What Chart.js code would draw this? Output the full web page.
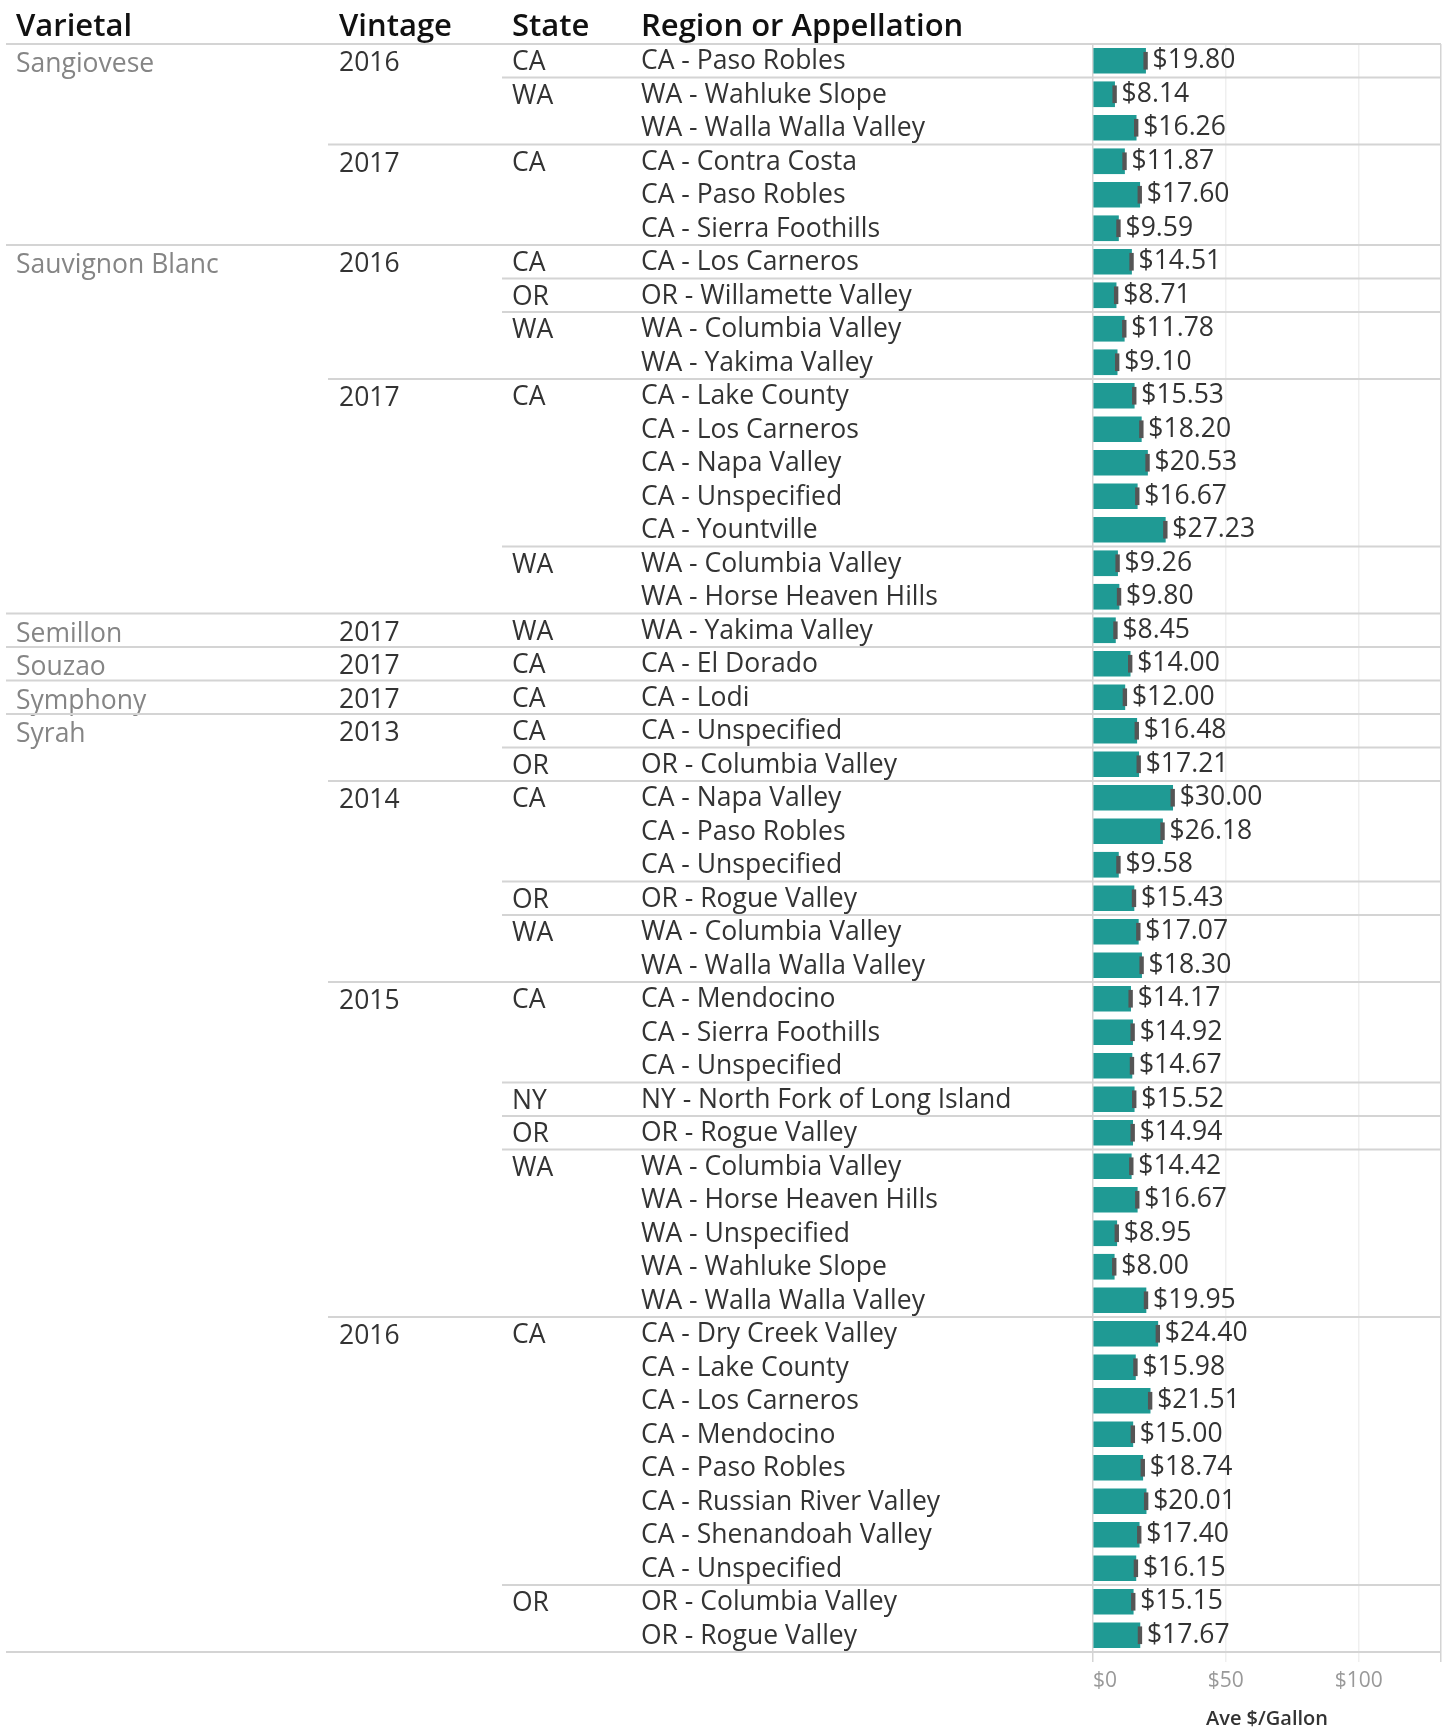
<!DOCTYPE html>
<html>
<head>
<meta charset="utf-8">
<script src="https://cdn.jsdelivr.net/npm/chart.js@4.4.1/dist/chart.umd.min.js"></script>
<style>
  body { margin: 0; background: #fff; }
  canvas { display: block; }
</style>
</head>
<body>
<canvas id="wineChart" width="1447" height="1731"></canvas>
<script>
// one entry per table row
const varietals = [
  "Sangiovese", "Sangiovese", "Sangiovese", "Sangiovese", "Sangiovese", "Sangiovese",
  "Sauvignon Blanc", "Sauvignon Blanc", "Sauvignon Blanc", "Sauvignon Blanc", "Sauvignon Blanc",
  "Sauvignon Blanc", "Sauvignon Blanc", "Sauvignon Blanc", "Sauvignon Blanc", "Sauvignon Blanc", "Sauvignon Blanc",
  "Semillon", "Souzao", "Symphony",
  "Syrah", "Syrah", "Syrah", "Syrah", "Syrah", "Syrah", "Syrah", "Syrah", "Syrah", "Syrah",
  "Syrah", "Syrah", "Syrah", "Syrah", "Syrah", "Syrah", "Syrah", "Syrah", "Syrah", "Syrah",
  "Syrah", "Syrah", "Syrah", "Syrah", "Syrah", "Syrah", "Syrah", "Syrah"
];
const vintages = [
  "2016", "2016", "2016", "2017", "2017", "2017",
  "2016", "2016", "2016", "2016", "2017", "2017", "2017", "2017", "2017", "2017", "2017",
  "2017", "2017", "2017",
  "2013", "2013",
  "2014", "2014", "2014", "2014", "2014", "2014",
  "2015", "2015", "2015", "2015", "2015", "2015", "2015", "2015", "2015", "2015",
  "2016", "2016", "2016", "2016", "2016", "2016", "2016", "2016", "2016", "2016"
];
const states = [
  "CA", "WA", "WA", "CA", "CA", "CA",
  "CA", "OR", "WA", "WA", "CA", "CA", "CA", "CA", "CA", "WA", "WA",
  "WA", "CA", "CA",
  "CA", "OR",
  "CA", "CA", "CA", "OR", "WA", "WA",
  "CA", "CA", "CA", "NY", "OR", "WA", "WA", "WA", "WA", "WA",
  "CA", "CA", "CA", "CA", "CA", "CA", "CA", "CA", "OR", "OR"
];
const regions = [
  "CA - Paso Robles", "WA - Wahluke Slope", "WA - Walla Walla Valley",
  "CA - Contra Costa", "CA - Paso Robles", "CA - Sierra Foothills",
  "CA - Los Carneros", "OR - Willamette Valley", "WA - Columbia Valley", "WA - Yakima Valley",
  "CA - Lake County", "CA - Los Carneros", "CA - Napa Valley", "CA - Unspecified", "CA - Yountville",
  "WA - Columbia Valley", "WA - Horse Heaven Hills",
  "WA - Yakima Valley", "CA - El Dorado", "CA - Lodi",
  "CA - Unspecified", "OR - Columbia Valley",
  "CA - Napa Valley", "CA - Paso Robles", "CA - Unspecified", "OR - Rogue Valley",
  "WA - Columbia Valley", "WA - Walla Walla Valley",
  "CA - Mendocino", "CA - Sierra Foothills", "CA - Unspecified", "NY - North Fork of Long Island",
  "OR - Rogue Valley", "WA - Columbia Valley", "WA - Horse Heaven Hills", "WA - Unspecified",
  "WA - Wahluke Slope", "WA - Walla Walla Valley",
  "CA - Dry Creek Valley", "CA - Lake County", "CA - Los Carneros", "CA - Mendocino",
  "CA - Paso Robles", "CA - Russian River Valley", "CA - Shenandoah Valley", "CA - Unspecified",
  "OR - Columbia Valley", "OR - Rogue Valley"
];
const avePrice = [
  19.80, 8.14, 16.26, 11.87, 17.60, 9.59,
  14.51, 8.71, 11.78, 9.10, 15.53, 18.20, 20.53, 16.67, 27.23, 9.26, 9.80,
  8.45, 14.00, 12.00,
  16.48, 17.21,
  30.00, 26.18, 9.58, 15.43, 17.07, 18.30,
  14.17, 14.92, 14.67, 15.52, 14.94, 14.42, 16.67, 8.95, 8.00, 19.95,
  24.40, 15.98, 21.51, 15.00, 18.74, 20.01, 17.40, 16.15, 15.15, 17.67
];
const xTicks = [0, 50, 100];
const headers = ["Varietal", "Vintage", "State", "Region or Appellation"];

const X_MAX = 131;

// only show a group label on the first row of its group
const newVarietal = varietals.map((v, i) => i === 0 || v !== varietals[i - 1]);
const newVintage = vintages.map((v, i) => newVarietal[i] || v !== vintages[i - 1]);
const newState = states.map((s, i) => newVintage[i] || s !== states[i - 1]);
const varietalLabels = varietals.map((v, i) => newVarietal[i] ? v : "");
const vintageLabels = vintages.map((v, i) => newVintage[i] ? v : "");
const stateLabels = states.map((s, i) => newState[i] ? s : "");

Chart.defaults.font.family = "'Open Sans', sans-serif";

function rowAxis(labels, weight, width, color, nudge) {
  return {
    type: "category",
    position: "left",
    labels: labels,
    weight: weight,
    offset: true,
    grid: { display: false, drawTicks: false },
    border: { display: false },
    ticks: {
      autoSkip: false,
      crossAlign: "far",
      padding: 0,
      labelOffset: nudge,
      color: color,
      font: { size: 26.5 },
    },
    afterFit: (axis) => { axis.width = width; },
  };
}

const tablePlugin = {
  id: "tableLines",
  beforeDatasetsDraw(chart) {
    const ctx = chart.ctx;
    const y = chart.scales.y;
    const area = chart.chartArea;
    const x0Var = chart.scales.yVarietal.left - 10;
    const x0Vin = chart.scales.yVintage.left - 11;
    const x0St = chart.scales.yState.left - 10;
    ctx.save();
    ctx.strokeStyle = "#d4d4d4";
    ctx.lineWidth = 2;
    const hline = (x0, yy) => {
      ctx.beginPath();
      ctx.moveTo(x0, yy);
      ctx.lineTo(area.right, yy);
      ctx.stroke();
    };
    hline(x0Var, area.top);
    hline(x0Var, area.bottom);
    for (let i = 1; i < regions.length; i++) {
      const yy = (y.getPixelForValue(i - 1) + y.getPixelForValue(i)) / 2;
      if (newVarietal[i]) hline(x0Var, yy);
      else if (newVintage[i]) hline(x0Vin, yy);
      else if (newState[i]) hline(x0St, yy);
    }
    ctx.restore();
  },
  afterDatasetsDraw(chart) {
    const ctx = chart.ctx;
    const meta = chart.getDatasetMeta(1);
    ctx.save();
    ctx.font = "26.5px 'Open Sans', sans-serif";
    ctx.fillStyle = "#333";
    ctx.textBaseline = "middle";
    ctx.textAlign = "left";
    meta.data.forEach((bar, i) => {
      ctx.fillText("$" + avePrice[i].toFixed(2), bar.x + 7, bar.y);
    });
    // column headers
    ctx.font = "600 31px 'Open Sans', sans-serif";
    ctx.fillStyle = "#111";
    ctx.textBaseline = "alphabetic";
    const cols = [chart.scales.yVarietal, chart.scales.yVintage, chart.scales.yState, chart.scales.y];
    cols.forEach((s, i) => ctx.fillText(headers[i], s.left, 36));
    ctx.restore();
  },
};

new Chart(document.getElementById("wineChart"), {
  type: "bar",
  data: {
    labels: regions,
    datasets: [
      {
        label: "Marker",
        data: avePrice.map((v) => [v - 0.7, v + 0.7]),
        backgroundColor: "#555",
        barThickness: 17,
        grouped: false,
        order: 0,
      },
      {
        label: "Ave $/Gallon",
        data: avePrice,
        backgroundColor: "#1f9a94",
        barThickness: 25,
        grouped: false,
        order: 1,
      },
    ],
  },
  options: {
    indexAxis: "y",
    responsive: false,
    animation: false,
    layout: { padding: { left: 16, top: 44, right: 2, bottom: 0 } },
    plugins: { legend: { display: false }, tooltip: { enabled: false } },
    scales: {
      yVarietal: rowAxis(varietalLabels, 4, 323, "#858585", 4),
      yVintage: rowAxis(vintageLabels, 3, 173, "#333", 3),
      yState: rowAxis(stateLabels, 2, 129, "#333", 2),
      y: rowAxis(regions, 1, 452, "#333", 1),
      x: {
        type: "linear",
        position: "bottom",
        min: 0,
        max: X_MAX,
        ticks: {
          stepSize: 50,
          align: "inner",
          color: "#999",
          font: { size: 21 },
          padding: 6,
          callback: (v) => (xTicks.includes(v) ? "$" + v : ""),
        },
        grid: {
          color: (c) => (c.tick.value === 0 || c.tick.value === X_MAX ? "#d4d4d4" : "#efefef"),
          lineWidth: 1.5,
          tickLength: 10,
        },
        border: { display: false },
        title: {
          display: true,
          text: "Ave $/Gallon",
          color: "#333",
          font: { size: 20, weight: "600" },
          padding: { top: 4, bottom: 0 },
        },
        afterFit: (axis) => { axis.height = 79; },
      },
    },
  },
  plugins: [tablePlugin],
});
</script>
</body>
</html>
